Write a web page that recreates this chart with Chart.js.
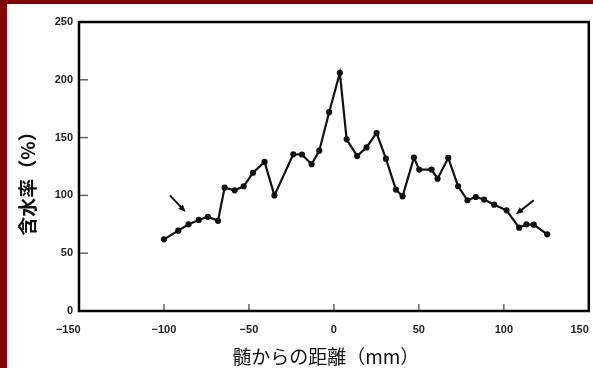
<!DOCTYPE html>
<html>
<head>
<meta charset="utf-8">
<script src="https://cdn.jsdelivr.net/npm/chart.js@4/dist/chart.umd.min.js"></script>
<style>
  html, body { margin: 0; padding: 0; background: #800404; overflow: hidden; }
  #wrap { position: absolute; left: 7px; top: 4px; width: 586px; height: 364px; background: #fff; }
  canvas { display: block; }
</style>
</head>
<body>
<div id="wrap"><canvas id="chart" width="586" height="364"></canvas></div>
<script>
// distance from pith (mm) and moisture content (%)
const distance = [
  -100, -91.6, -85.5, -79.5, -74.2, -68.2, -64.3, -58.4, -53.1, -47.6,
  -40.8, -35, -23.9, -18.8, -13.1, -8.6, -2.8, 3.5, 7.5, 13.7,
  19.2, 25.1, 30.6, 36.5, 40.4, 47.1, 50.2, 57.5, 61, 67.3,
  73.1, 78.6, 83.5, 88.4, 94.3, 101.6, 109, 113.3, 117.6, 125.5
];
const moisture = [
  62, 69.5, 75, 78.8, 81.5, 78, 106.7, 104.4, 107.9, 119.6,
  129, 100, 135.5, 135.4, 127, 138.7, 172, 206, 148.5, 134,
  141.5, 154, 131.8, 105, 99.2, 132.7, 122.3, 122.3, 114.5, 132.4,
  107.9, 95.8, 98.6, 96.4, 92, 87.1, 72.1, 75, 74.7, 66.3
];

const xTicks = [-150, -100, -50, 0, 50, 100, 150];
const yTicks = [0, 50, 100, 150, 200, 250];

// arrows pointing at the ends of the curve: [x0, y0, x1, y1] in data units
const arrows = [
  [-96.5, 100, -87.2, 85.6],
  [117.6, 95.8, 107.1, 83.6]
];

const xTitle = "髄からの距離（mm）";
const yTitle = "含水率（%）";

const points = distance.map((d, i) => ({ x: d, y: moisture[i] }));

// end labels sit a little inward, like in the original print
const xLabel = (v) => {
  const s = v < 0 ? "\u2212" + Math.abs(v) : String(v);
  if (v === -150) return s + "       ";
  if (v === 150) return s + "      ";
  return s;
};

const frame = {
  id: "frame",
  afterDraw(chart) {
    const { ctx, chartArea: a, scales } = chart;
    ctx.save();
    // small inner ticks
    ctx.strokeStyle = "#666";
    ctx.lineWidth = 1.5;
    yTicks.slice(1, -1).forEach((v) => {
      const y = scales.y.getPixelForValue(v);
      ctx.beginPath();
      ctx.moveTo(a.left, y);
      ctx.lineTo(a.left + 9, y);
      ctx.stroke();
    });
    xTicks.slice(1, -1).forEach((v) => {
      const x = scales.x.getPixelForValue(v);
      ctx.beginPath();
      ctx.moveTo(x, a.bottom);
      ctx.lineTo(x, a.bottom - 7);
      ctx.stroke();
    });
    // box
    ctx.strokeStyle = "#000";
    ctx.lineWidth = 2.5;
    ctx.strokeRect(a.left, a.top, a.right - a.left, a.bottom - a.top);

    // arrows
    ctx.fillStyle = "#111";
    ctx.strokeStyle = "#111";
    ctx.lineWidth = 2;
    arrows.forEach(([x0, y0, x1, y1]) => {
      const px0 = scales.x.getPixelForValue(x0);
      const py0 = scales.y.getPixelForValue(y0);
      const px1 = scales.x.getPixelForValue(x1);
      const py1 = scales.y.getPixelForValue(y1);
      const ang = Math.atan2(py1 - py0, px1 - px0);
      const hl = 8;
      ctx.beginPath();
      ctx.moveTo(px0, py0);
      ctx.lineTo(px1 - Math.cos(ang) * hl * 0.6, py1 - Math.sin(ang) * hl * 0.6);
      ctx.stroke();
      ctx.beginPath();
      ctx.moveTo(px1, py1);
      ctx.lineTo(px1 - hl * Math.cos(ang - 0.4), py1 - hl * Math.sin(ang - 0.4));
      ctx.lineTo(px1 - hl * Math.cos(ang + 0.4), py1 - hl * Math.sin(ang + 0.4));
      ctx.closePath();
      ctx.fill();
    });

    // axis titles
    ctx.fillStyle = "#111";
    ctx.textAlign = "center";
    ctx.textBaseline = "middle";
    ctx.font = "19px 'Noto Sans CJK JP'";
    ctx.fillText(xTitle, a.left + (a.right - a.left) * 0.484, 353);
    ctx.translate(21, 175);
    ctx.rotate(-Math.PI / 2);
    ctx.font = "bold 19px 'Noto Sans CJK JP'";
    ctx.fillText(yTitle, 0, 0);
    ctx.restore();
  }
};

const ctx = document.getElementById("chart").getContext("2d");
new Chart(ctx, {
  type: "scatter",
  data: {
    datasets: [
      {
        label: "含水率",
        data: points,
        showLine: true,
        borderColor: "#111",
        backgroundColor: "#111",
        borderWidth: 2.2,
        pointRadius: 2,
        pointHoverRadius: 2,
        tension: 0,
      },
    ],
  },
  options: {
    responsive: false,
    animation: false,
    layout: { padding: { top: 18, right: 4, left: 0, bottom: 0 } },
    plugins: {
      legend: { display: false },
      tooltip: { enabled: false },
    },
    scales: {
      x: {
        type: "linear",
        min: -150,
        max: 150,
        afterBuildTicks: (s) => { s.ticks = xTicks.map((v) => ({ value: v })); },
        afterFit: (s) => {
          s.height = 57;
          s.paddingLeft = 0;
          s.paddingRight = 0;
        },
        grid: { display: false, drawTicks: false },
        border: { display: false },
        ticks: {
          padding: 12,
          color: "#222",
          font: { family: "'Liberation Sans', Arial", size: 11, weight: "bold" },
          callback: xLabel,
        },
      },
      y: {
        type: "linear",
        min: 0,
        max: 250,
        afterBuildTicks: (s) => { s.ticks = yTicks.map((v) => ({ value: v })); },
        afterFit: (s) => {
          s.width = 72;
          s.paddingTop = 0;
          s.paddingBottom = 0;
        },
        grid: { display: false, drawTicks: false },
        border: { display: false },
        ticks: {
          padding: 6,
          color: "#222",
          font: { family: "'Liberation Sans', Arial", size: 11, weight: "bold" },
        },
      },
    },
  },
  plugins: [frame],
});
</script>
</body>
</html>
